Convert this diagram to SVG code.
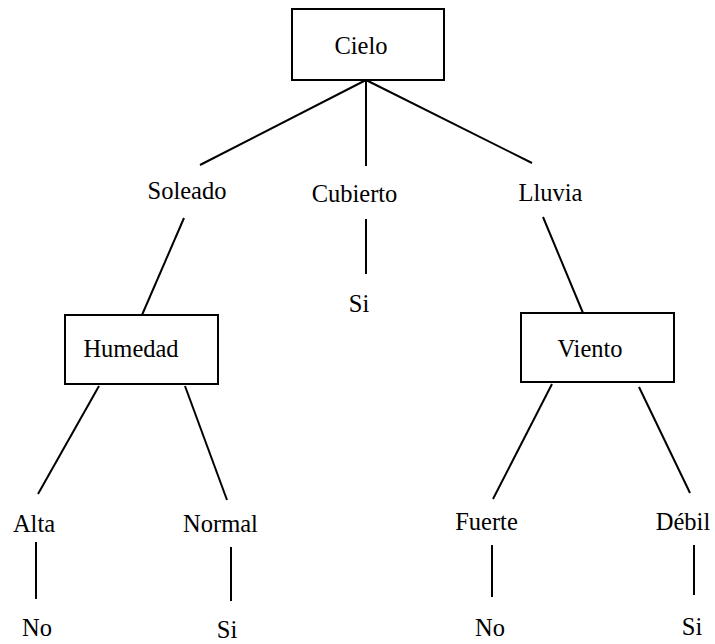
<svg xmlns="http://www.w3.org/2000/svg" width="715" height="644" viewBox="0 0 715 644">
  <style>
    .box { fill: #ffffff; stroke: #000000; stroke-width: 2; }
    .lbl { font-family: "Liberation Serif", "Times New Roman", serif; font-size: 24.5px; fill: #000000; text-anchor: middle; }
    .edge { stroke: #000000; stroke-width: 2; fill: none; }
  </style>
  <rect width="715" height="644" fill="#ffffff"/>

  <!-- connectors -->
  <g id="connectors">
    <line class="edge" x1="366" y1="80" x2="200" y2="165"/>
    <line class="edge" x1="366" y1="80" x2="366" y2="166"/>
    <line class="edge" x1="366" y1="80" x2="532" y2="163"/>
    <line class="edge" x1="184" y1="218" x2="142" y2="315"/>
    <line class="edge" x1="366" y1="219" x2="366" y2="274"/>
    <line class="edge" x1="543" y1="217" x2="583" y2="313"/>
    <line class="edge" x1="99" y1="386" x2="38" y2="494"/>
    <line class="edge" x1="185" y1="386" x2="227" y2="500"/>
    <line class="edge" x1="552" y1="384" x2="493" y2="499"/>
    <line class="edge" x1="639" y1="387" x2="690" y2="493"/>
    <line class="edge" x1="36" y1="542" x2="36" y2="599"/>
    <line class="edge" x1="231" y1="547" x2="231" y2="601"/>
    <line class="edge" x1="492" y1="545" x2="492" y2="597"/>
    <line class="edge" x1="694" y1="545" x2="694" y2="595"/>
  </g>

  <!-- attribute nodes -->
  <g id="cielo">
    <rect class="box" x="292" y="9" width="152" height="71"/>
    <text class="lbl" x="361" y="54">Cielo</text>
  </g>
  <g id="humedad">
    <rect class="box" x="65" y="315" width="153" height="69"/>
    <text class="lbl" x="131" y="357">Humedad</text>
  </g>
  <g id="viento">
    <rect class="box" x="521" y="313" width="153" height="69"/>
    <text class="lbl" x="590" y="357">Viento</text>
  </g>

  <!-- branch values -->
  <g id="soleado"><text class="lbl" x="187" y="199">Soleado</text></g>
  <g id="cubierto"><text class="lbl" x="354.5" y="202">Cubierto</text></g>
  <g id="lluvia"><text class="lbl" x="550.5" y="201">Lluvia</text></g>
  <g id="alta"><text class="lbl" x="34" y="532">Alta</text></g>
  <g id="normal"><text class="lbl" x="220.5" y="532">Normal</text></g>
  <g id="fuerte"><text class="lbl" x="486.5" y="530">Fuerte</text></g>
  <g id="debil"><text class="lbl" x="683" y="530">Débil</text></g>

  <!-- leaf outcomes -->
  <g id="si-cubierto"><text class="lbl" x="359" y="312">Si</text></g>
  <g id="no-alta"><text class="lbl" x="37" y="636">No</text></g>
  <g id="si-normal"><text class="lbl" x="227" y="638">Si</text></g>
  <g id="no-fuerte"><text class="lbl" x="490" y="636">No</text></g>
  <g id="si-debil"><text class="lbl" x="692" y="635">Si</text></g>
</svg>
